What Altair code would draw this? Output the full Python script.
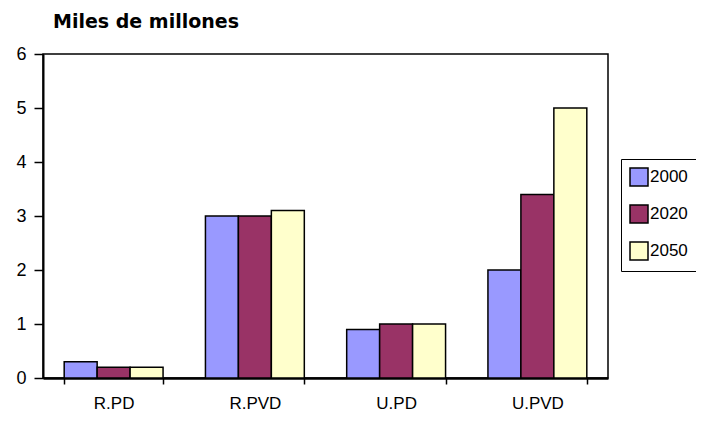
import altair as alt
import pandas as pd

categories = ["R.PD", "R.PVD", "U.PD", "U.PVD"]
years = ["2000", "2020", "2050"]
v2000 = [0.3, 3.0, 0.9, 2.0]
v2020 = [0.2, 3.0, 1.0, 3.4]
v2050 = [0.2, 3.1, 1.0, 5.0]
colors = ["#9999FF", "#993366", "#FFFFCC"]
y_ticks = [0, 1, 2, 3, 4, 5, 6]

rows = []
for yr, vals in zip(years, [v2000, v2020, v2050]):
    for c, v in zip(categories, vals):
        rows.append({"cat": c, "year": yr, "value": v})
df = pd.DataFrame(rows)

FONT = "Liberation Sans"

chart = alt.Chart(df).mark_bar(stroke="black", strokeWidth=1.5).encode(
    x=alt.X("cat:N", sort=categories, title=None,
            scale=alt.Scale(paddingInner=0.3, paddingOuter=0.15),
            axis=alt.Axis(labelAngle=0, tickBand="extent", labelFontSize=17,
                          labelFont=FONT, labelColor="black", labelPadding=11,
                          tickSize=6, tickColor="black", tickWidth=1.5,
                          domainColor="black", domainWidth=2.5)),
    xOffset=alt.XOffset("year:N", sort=years, scale=alt.Scale(paddingInner=0, paddingOuter=0)),
    y=alt.Y("value:Q", title=None, scale=alt.Scale(domain=[0, 6], nice=False),
            axis=alt.Axis(values=y_ticks, grid=False, labelFontSize=18, labelFont=FONT,
                          labelColor="black", labelPadding=8, tickSize=9,
                          tickColor="black", tickWidth=1.5, domainColor="black",
                          domainWidth=2)),
    color=alt.Color("year:N", sort=years,
                    scale=alt.Scale(domain=years, range=colors),
                    legend=alt.Legend(title=None, orient="none", legendX=578, legendY=105,
                                      strokeColor="black", fillColor="white", padding=8,
                                      symbolType="square", symbolSize=324,
                                      symbolStrokeColor="black", symbolStrokeWidth=1.5,
                                      labelFontSize=17, labelFont=FONT, labelColor="black",
                                      labelOffset=1, rowPadding=13)),
).properties(
    width=565,
    height=324,
    title=alt.TitleParams("Miles de millones", anchor="start", frame="group", fontSize=19,
                          fontWeight="bold", font="DejaVu Sans", color="black", dx=10,
                          offset=13),
    autosize=alt.AutoSizeParams(type="none"),
    padding={"left": 35, "top": 46, "right": 88, "bottom": 33},
).configure(background="white").configure_view(stroke="black", strokeWidth=1.5)

chart.save("out.html", embed_options={"renderer": "svg", "actions": False})
